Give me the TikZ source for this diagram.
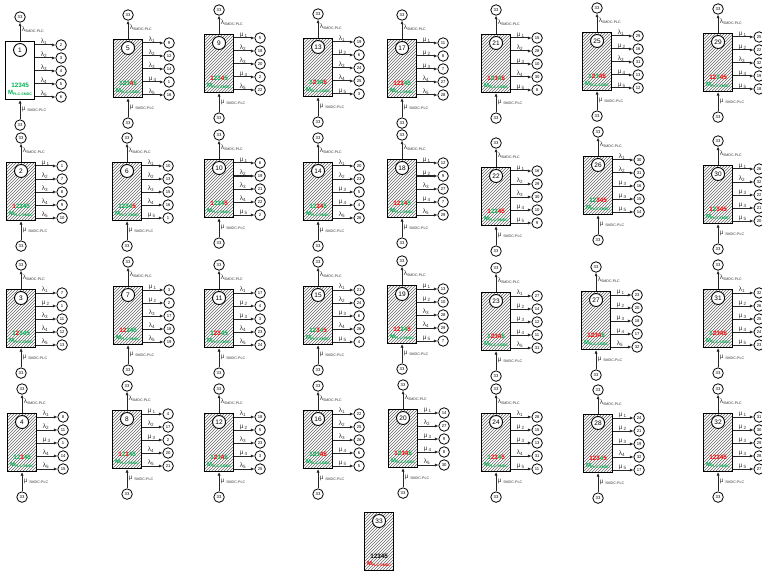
\documentclass[tikz,border=0pt]{standalone}
\usepackage{fontspec}
\setmainfont{Liberation Sans}
\usetikzlibrary{arrows.meta,positioning,patterns}
\definecolor{upgreen}{RGB}{0,176,80}
\definecolor{downred}{RGB}{255,0,0}
\newcommand{\dup}[1]{\textcolor{upgreen}{#1}}
\newcommand{\ddn}[1]{\textcolor{downred}{#1}}
\newcommand{\tinysub}[1]{\raisebox{-1pt}{\fontsize{3.6}{4}\selectfont #1}}
% rate label: l = failure, m = repair
\newcommand{\rt}[2]{\if#1lλ\textsubscript{#2}\else μ\,\textsubscript{#2}\fi}
\tikzset{
  box/.style={draw,line width=1.1pt,minimum width=29pt,minimum height=58pt,inner sep=0pt},
  hatched/.style={pattern=north east lines,pattern color=black!60},
  plain/.style={fill=white},
  inner/.style={draw,circle,line width=0.9pt,fill=white,minimum size=13pt,inner sep=0pt,
                font=\fontsize{6.5}{7}\selectfont},
  small/.style={draw,circle,line width=0.8pt,fill=white,minimum size=10.5pt,inner sep=0pt,
                font=\fontsize{4.2}{5}\selectfont},
  tr/.style={-{Latex[length=3.5pt,width=3.2pt]},line width=1pt,black!85},
  rate/.style={inner sep=0.5pt,font=\fontsize{6.5}{7}\selectfont,text=black!80},
  digits/.style={inner sep=0pt,font=\bfseries\fontsize{6.3}{7}\selectfont},
  mlabel/.style={inner sep=0pt,font=\bfseries\fontsize{6}{7}\selectfont,text=upgreen},
}
% #1 state, #2 top left corner, #3 fill, #4 digits, #5 transitions k/type/target
\newcommand{\mstate}[5]{%
  \node[box,#3,anchor=north west] (s#1) at (#2) {};
  \node[inner] (c#1) at ([yshift=-9pt]s#1.north) {#1};
  \node[digits] at ([yshift=15pt]s#1.south) {#4};
  \node[mlabel] at ([yshift=7pt]s#1.south) {M\tinysub{PLC-SMDC}};
  \node[small] (t#1) at ([yshift=24pt]s#1.north) {33};
  \node[small] (b#1) at ([yshift=-25pt]s#1.south) {33};
  \draw[tr] (s#1.north) -- (t#1);
  \draw[tr] (b#1) -- (s#1.south);
  \node[rate,anchor=west] at ([xshift=1pt,yshift=11pt]s#1.north) {λ\tinysub{SMDC-PLC}};
  \node[rate,anchor=west] at ([xshift=1pt,yshift=-9pt]s#1.south) {μ \tinysub{SMDC-PLC}};
  \foreach \k/\s/\t [evaluate=\k as \off using 4+13*(\k-1)] in {#5} {
    \coordinate (o#1-\k) at ([yshift=-\off pt]s#1.north east);
    \node[small] (n#1-\k) at ([xshift=26pt]o#1-\k) {\t};
    \draw[tr] (o#1-\k) -- (n#1-\k);
    \node[rate,anchor=south west] at ([xshift=5pt]o#1-\k) {\rt\s\k};
  }
}

\begin{document}
\begin{tikzpicture}[x=1pt,y=-1pt]
  \useasboundingbox (0,0) rectangle (762,572);
  % no failure
  \mstate{1}{5,41}{plain}{\dup1\dup2\dup3\dup4\dup5}{1/l/2,2/l/3,3/l/4,4/l/5,5/l/6}
  % one failure
  \mstate{2}{6,162}{hatched}{\ddn1\dup2\dup3\dup4\dup5}{1/m/1,2/l/7,3/l/8,4/l/9,5/l/10}
  \mstate{3}{6,289}{hatched}{\dup1\ddn2\dup3\dup4\dup5}{1/l/7,2/m/1,3/l/11,4/l/12,5/l/13}
  \mstate{4}{7,413}{hatched}{\dup1\dup2\ddn3\dup4\dup5}{1/l/8,2/l/11,3/m/1,4/l/14,5/l/15}
  \mstate{5}{113,39}{hatched}{\dup1\dup2\dup3\ddn4\dup5}{1/l/9,2/l/12,3/l/14,4/m/1,5/l/16}
  \mstate{6}{112,162}{hatched}{\dup1\dup2\dup3\dup4\ddn5}{1/l/10,2/l/13,3/l/15,4/l/16,5/m/1}
  % two failures
  \mstate{7}{113,286}{hatched}{\ddn1\ddn2\dup3\dup4\dup5}{1/m/3,2/m/2,3/l/17,4/l/18,5/l/19}
  \mstate{8}{112,410}{hatched}{\ddn1\dup2\ddn3\dup4\dup5}{1/m/4,2/l/17,3/m/2,4/l/20,5/l/21}
  \mstate{9}{204,34}{hatched}{\ddn1\dup2\dup3\ddn4\dup5}{1/m/5,2/l/18,3/l/20,4/m/2,5/l/22}
  \mstate{10}{204,159}{hatched}{\ddn1\dup2\dup3\dup4\ddn5}{1/m/6,2/l/19,3/l/21,4/l/22,5/m/2}
  \mstate{11}{204,289}{hatched}{\dup1\ddn2\ddn3\dup4\dup5}{1/l/17,2/m/4,3/m/3,4/l/23,5/l/24}
  \mstate{12}{204,413}{hatched}{\dup1\ddn2\dup3\ddn4\dup5}{1/l/18,2/m/5,3/l/23,4/m/3,5/l/25}
  \mstate{13}{303,38}{hatched}{\dup1\ddn2\dup3\dup4\ddn5}{1/l/19,2/m/6,3/l/24,4/l/25,5/m/3}
  \mstate{14}{303,162}{hatched}{\dup1\dup2\ddn3\ddn4\dup5}{1/l/20,2/l/23,3/m/5,4/m/4,5/l/26}
  \mstate{15}{303,286}{hatched}{\dup1\dup2\ddn3\dup4\ddn5}{1/l/21,2/l/24,3/m/6,4/l/26,5/m/4}
  \mstate{16}{303,410}{hatched}{\dup1\dup2\dup3\ddn4\ddn5}{1/l/22,2/l/25,3/l/26,4/m/6,5/m/5}
  % three failures
  \mstate{17}{387,39}{hatched}{\ddn1\ddn2\ddn3\dup4\dup5}{1/m/11,2/m/8,3/m/7,4/l/27,5/l/28}
  \mstate{18}{387,159}{hatched}{\ddn1\ddn2\dup3\ddn4\dup5}{1/m/12,2/m/9,3/l/27,4/m/7,5/l/29}
  \mstate{19}{387,285}{hatched}{\ddn1\ddn2\dup3\dup4\ddn5}{1/m/13,2/m/10,3/l/28,4/l/29,5/m/7}
  \mstate{20}{388,409}{hatched}{\ddn1\dup2\ddn3\ddn4\dup5}{1/m/14,2/l/27,3/m/9,4/m/8,5/l/30}
  \mstate{21}{481,34}{hatched}{\ddn1\dup2\ddn3\dup4\ddn5}{1/m/15,2/l/28,3/m/10,4/l/30,5/m/8}
  \mstate{22}{481,167}{hatched}{\ddn1\dup2\dup3\ddn4\ddn5}{1/m/16,2/l/29,3/l/30,4/m/10,5/m/9}
  \mstate{23}{481,292}{hatched}{\dup1\ddn2\ddn3\ddn4\dup5}{1/l/27,2/m/14,3/m/12,4/m/11,5/l/31}
  \mstate{24}{481,413}{hatched}{\dup1\ddn2\ddn3\dup4\ddn5}{1/l/28,2/m/15,3/m/13,4/l/31,5/m/11}
  \mstate{25}{582,32}{hatched}{\dup1\ddn2\dup3\ddn4\ddn5}{1/l/29,2/m/16,3/l/31,4/m/13,5/m/12}
  \mstate{26}{583,156}{hatched}{\dup1\dup2\ddn3\ddn4\ddn5}{1/l/30,2/l/31,3/m/16,4/m/15,5/m/14}
  % four and five failures
  \mstate{27}{581,291}{hatched}{\ddn1\ddn2\ddn3\ddn4\dup5}{1/m/23,2/m/20,3/m/18,4/m/17,5/l/32}
  \mstate{28}{583,414}{hatched}{\ddn1\ddn2\ddn3\dup4\ddn5}{1/m/24,2/m/21,3/m/19,4/l/32,5/m/17}
  \mstate{29}{703,33}{hatched}{\ddn1\ddn2\dup3\ddn4\ddn5}{1/m/25,2/m/22,3/l/32,4/m/19,5/m/18}
  \mstate{30}{703,165}{hatched}{\ddn1\dup2\ddn3\ddn4\ddn5}{1/m/26,2/l/32,3/m/22,4/m/21,5/m/20}
  \mstate{31}{703,289}{hatched}{\dup1\ddn2\ddn3\ddn4\ddn5}{1/l/32,2/m/26,3/m/25,4/m/24,5/m/23}
  \mstate{32}{703,413}{hatched}{\ddn1\ddn2\ddn3\ddn4\ddn5}{1/m/31,2/m/30,3/m/29,4/m/28,5/m/27}
  % SMDC-PLC failed
  \node[box,hatched,anchor=north west] (s33) at (364,512) {};
  \node[inner] (c33) at ([yshift=-9pt]s33.north) {33};
  \node[digits] at ([yshift=15pt]s33.south) {12345};
  \node[mlabel,text=downred] at ([yshift=7pt]s33.south) {M\tinysub{PLC-SMDC}};
\end{tikzpicture}
\end{document}
